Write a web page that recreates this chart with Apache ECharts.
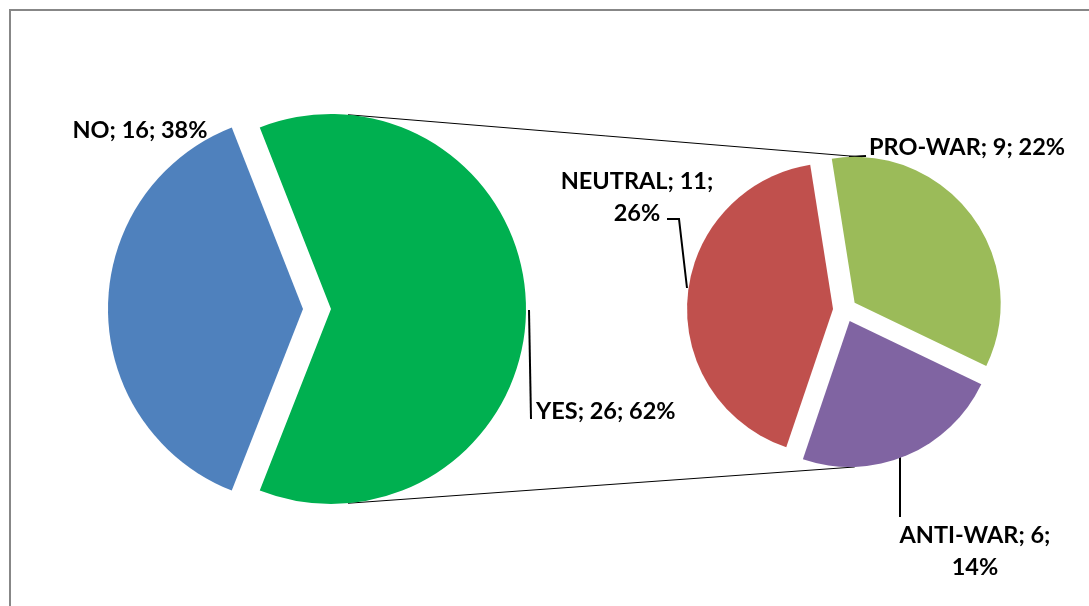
<!DOCTYPE html>
<html>
<head>
<meta charset="utf-8">
<script src="https://cdn.jsdelivr.net/npm/echarts@6/dist/echarts.min.js"></script>
<style>
  html, body { margin: 0; padding: 0; background: #ffffff; }
  #chart { width: 1089px; height: 606px; }
</style>
</head>
<body>
<div id="chart"></div>
<script>
// Survey answers: YES is broken down into attitudes in the secondary pie
const mainCategories = ['NO', 'YES'];
const mainValues = [16, 26];
const splitCategories = ['NEUTRAL', 'PRO-WAR', 'ANTI-WAR'];
const splitValues = [11, 9, 6];

const mainColors = ['#4F81BD', '#00B050'];
const splitColors = ['#C0504D', '#9BBB59', '#8064A2'];

const sum = arr => arr.reduce((a, b) => a + b, 0);

// Shares of the grand total, rounded by largest remainder so they add up to 100
function roundedShares(values, whole) {
  const raw = values.map(v => v / whole * 100);
  const out = raw.map(Math.floor);
  const missing = 100 - sum(out);
  const order = raw.map((r, i) => [r - Math.floor(r), i]).sort((a, b) => b[0] - a[0]);
  for (let k = 0; k < missing; k++) out[order[k][1]] += 1;
  return out;
}
const total = sum(mainValues);
const leafShares = roundedShares([mainValues[0], ...splitValues], total);
const splitShares = leafShares.slice(1);
const mainShares = [leafShares[0], sum(splitShares)];

// Layout of the two pies
const MAIN = { cx: 331, cy: 309, r: 195 };
const SPLIT = { cx: 845, cy: 310, r: 146 };
const mainPull = [28, 0];          // NO is pulled away from YES
const splitPull = [12, 12, 12];    // every slice of the breakdown is pulled apart
const mainStart = 180 + (mainValues[0] / total * 360) / 2;        // NO centred on the left
const splitBoundary = 99;                                            // NEUTRAL | PRO-WAR edge
const splitStart = splitBoundary + splitValues[0] / sum(splitValues) * 360;

function polar(cx, cy, r, deg) {
  const a = deg * Math.PI / 180;
  return [cx + r * Math.cos(a), cy - r * Math.sin(a)];
}
// mid angle of slice i of a clockwise pie starting at `start`
function midAngle(values, start, i) {
  const whole = sum(values);
  const before = sum(values.slice(0, i)) / whole * 360;
  return start - before - (values[i] / whole * 360) / 2;
}

// Connector lines between the YES slice and the secondary pie
const proC = polar(SPLIT.cx, SPLIT.cy, splitPull[1], midAngle(splitValues, splitStart, 1));
const antiC = polar(SPLIT.cx, SPLIT.cy, splitPull[2], midAngle(splitValues, splitStart, 2));
const linkTop = [polar(MAIN.cx, MAIN.cy, MAIN.r, 85), polar(proC[0], proC[1], SPLIT.r, 87)];
const linkBottom = [polar(MAIN.cx, MAIN.cy, MAIN.r, -85), polar(antiC[0], antiC[1], SPLIT.r, -88)];

// Label anchors and leader lines
const labelSpots = {
  'NO':       { x: 140, y: 130, align: 'center' },
  'YES':      { x: 536, y: 411, align: 'left', line: [[529, 310], [531, 419], [531, 419]] },
  'NEUTRAL':  { x: 637, y: 197, align: 'center', wrap: true, line: [[687, 288], [679, 219], [667, 219]] },
  'PRO-WAR':  { x: 967, y: 147, align: 'center', line: [[849, 157], [866, 156], [866, 156]] },
  'ANTI-WAR': { x: 975, y: 551, align: 'center', wrap: true, line: [[900, 453], [900, 517], [900, 517]] }
};

function labelText(name, value, share) {
  const spot = labelSpots[name];
  return spot.wrap ? name + '; ' + value + ';\n' + share + '%' : name + '; ' + value + '; ' + share + '%';
}

const labelStyle = {
  show: true,
  position: 'outside',
  fontFamily: 'Lato',
  fontWeight: 'bold',
  fontSize: 23.5,
  lineHeight: 32,
  color: '#000000'
};

// One series per slice so each slice can sit on its own (pulled-out) centre;
// the other slices of that series are left invisible.
function sliceSeries(names, values, colors, shares, geo, start, pulls, k) {
  const c = polar(geo.cx, geo.cy, pulls[k], midAngle(values, start, k));
  return {
    type: 'pie',
    center: c,
    radius: geo.r,
    startAngle: start,
    clockwise: true,
    silent: true,
    avoidLabelOverlap: false,
    emphasis: { disabled: true },
    itemStyle: { borderWidth: 0 },
    label: Object.assign({}, labelStyle, {
      formatter: p => labelText(p.name, p.value, shares[p.dataIndex])
    }),
    labelLine: { show: true, lineStyle: { color: '#000000', width: 2 } },
    labelLayout: function (params) {
      const spot = labelSpots[names[params.dataIndex]];
      const res = { x: spot.x, y: spot.y, align: spot.align, verticalAlign: 'middle' };
      if (spot.line) res.labelLinePoints = spot.line;
      return res;
    },
    data: names.map((name, i) => ({
      name: name,
      value: values[i],
      itemStyle: { color: i === k ? colors[i] : 'rgba(0,0,0,0)', borderWidth: 0 },
      label: { show: i === k },
      labelLine: { show: i === k && !!labelSpots[name].line }
    }))
  };
}

const series = [];
mainCategories.forEach((_, k) =>
  series.push(sliceSeries(mainCategories, mainValues, mainColors, mainShares, MAIN, mainStart, mainPull, k)));
splitCategories.forEach((_, k) =>
  series.push(sliceSeries(splitCategories, splitValues, splitColors, splitShares, SPLIT, splitStart, splitPull, k)));

const chart = echarts.init(document.getElementById('chart'), null, { renderer: 'canvas' });
chart.setOption({
  backgroundColor: '#ffffff',
  animation: false,
  graphic: [
    { type: 'rect', z: 0, shape: { x: 10, y: 10, width: 1200, height: 800 },
      style: { fill: 'none', stroke: '#878787', lineWidth: 2 } },
    { type: 'line', z: 0, shape: { x1: linkTop[0][0], y1: linkTop[0][1], x2: linkTop[1][0], y2: linkTop[1][1] },
      style: { stroke: '#000000', lineWidth: 1 } },
    { type: 'line', z: 0, shape: { x1: linkBottom[0][0], y1: linkBottom[0][1], x2: linkBottom[1][0], y2: linkBottom[1][1] },
      style: { stroke: '#000000', lineWidth: 1 } }
  ],
  series: series
});
</script>
</body>
</html>
